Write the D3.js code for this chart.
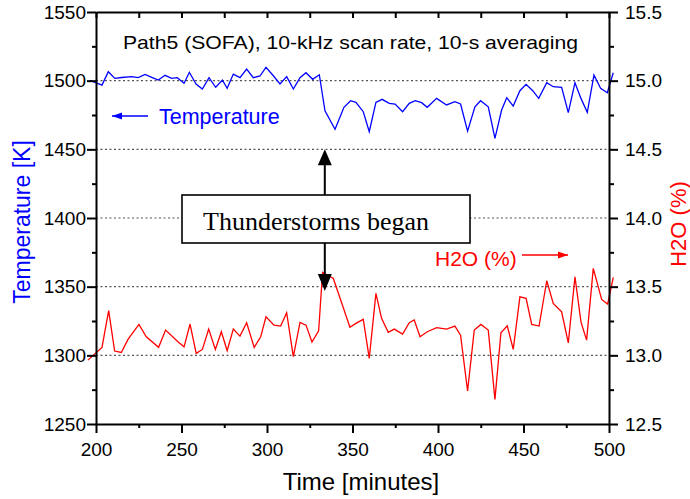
<!DOCTYPE html>
<html>
<head>
<meta charset="utf-8">
<script src="https://cdn.jsdelivr.net/npm/d3@7"></script>
<style>
  body{margin:0;background:#fff;}
  svg{display:block;font-family:"Liberation Sans",Arial,sans-serif;}
</style>
</head>
<body>
<svg id="chart" width="690" height="499"></svg>
<script>
// temperature series (left axis, K)
const tempTime = [196.5,203.5,207.2,211,215,220.9,224.7,228.7,232.6,236.4,240.4,244.2,247.5,251.5,254.6,258.5,262.2,266.1,270,273.9,276.7,280.3,284.2,288.1,292,295.9,299.4,303.7,307.6,311.5,315.4,319.3,322.8,326.7,330.6,333.9,339.8,345,348.9,352,356.3,359.8,363.7,367.3,371.5,374.9,379.3,383.2,386.7,390.4,393.7,399.2,405,409.9,413.2,417.3,421.6,424.9,429.4,433.3,437.2,440.2,444,447.9,451.5,455.4,458.9,463.6,467.4,472.3,476.2,480.1,483.6,487.3,491.2,495.1,499,502.5];
const tempVal = [1500.2,1496.8,1506.5,1501.7,1502.3,1502.9,1502.2,1504.6,1502.4,1500.5,1503.9,1501.7,1502.2,1498.1,1506.1,1497.6,1493.9,1502.2,1495.2,1500.5,1494.4,1504.8,1502.2,1508.5,1502.2,1503.4,1509.7,1503.6,1497.6,1502.9,1493.9,1502.2,1505.8,1501,1504.3,1478.1,1464.6,1480.6,1485.4,1484.2,1477.4,1462.8,1484.2,1486.4,1483.5,1483,1477.4,1483.5,1485.4,1484,1480.6,1487.1,1482.3,1484.7,1483,1463.3,1481,1485.4,1481,1458,1478.6,1487.6,1481.5,1492.7,1497.3,1492.7,1487.1,1498.5,1495.6,1495.2,1476.7,1498.5,1487.1,1476.9,1504.1,1494.4,1491.2,1505.8];

// H2O series (right axis, %)
const h2oTime = [195.3,203.5,207.4,210.9,214.8,218.7,225.1,229.4,236.6,240.7,247.9,251.5,255,258.6,262.2,265.9,269.8,273.3,276.7,280.3,284.2,288.1,292.5,296.3,299.4,304.1,308,311.5,315.4,319.3,322.8,326.3,330.2,332.5,338.8,348.5,352,356.3,359.8,363.7,367,370.9,374.4,379.3,383.2,386.1,389.5,393.7,399.2,405,409.9,413.2,417.3,421.2,425.1,429.4,433.3,436.8,440.5,444,447.9,451.5,454.8,459.1,463.6,467.4,472.3,476.2,480.1,483.6,486.9,490.8,495.7,499.2,502.5];
const h2oVal = [12.965,13.058,13.325,13.031,13.021,13.116,13.225,13.135,13.058,13.184,13.099,13.062,13.228,13.014,13.043,13.191,13.043,13.172,13.033,13.191,13.14,13.237,13.058,13.135,13.281,13.22,13.213,13.31,12.99,13.24,13.22,13.097,13.179,13.605,13.56,13.204,13.233,13.262,12.978,13.451,13.269,13.167,13.191,13.155,13.237,13.257,13.135,13.172,13.201,13.191,13.213,13.147,12.74,13.184,13.225,13.184,12.679,13.164,13.215,13.043,13.426,13.415,13.225,13.213,13.543,13.378,13.317,13.091,13.572,13.244,13.111,13.633,13.407,13.373,13.568];

const xTicks = [200,250,300,350,400,450,500];
const xMinor = [225,275,325,375,425,475];
const tTicks = [1250,1300,1350,1400,1450,1500,1550];
const tMinor = [1275,1325,1375,1425,1475,1525];
const hTicks = [12.5,13.0,13.5,14.0,14.5,15.0,15.5];
const hMinor = [12.75,13.25,13.75,14.25,14.75,15.25];
const gridVals = [1300,1350,1400,1450,1500];

const svg = d3.select("#chart");
const L=96, R=609, T=12, B=424;

const x = d3.scaleLinear().domain([200,500]).range([L,R]);
const yT = d3.scaleLinear().domain([1250,1550]).range([B,T]);
const yH = d3.scaleLinear().domain([12.5,15.5]).range([B,T]);

// dotted grid
svg.append("g").selectAll("line").data(gridVals).join("line")
  .attr("x1",L).attr("x2",R).attr("y1",d=>yT(d)).attr("y2",d=>yT(d))
  .attr("stroke","#555").attr("stroke-width",1.2).attr("stroke-dasharray","2,2.5");

// series
const tData = tempTime.map((t,i)=>[t,tempVal[i]]);
const hData = h2oTime.map((t,i)=>[t,h2oVal[i]]);
svg.append("path").datum(tData)
  .attr("d",d3.line().x(d=>x(d[0])).y(d=>yT(d[1])))
  .attr("fill","none").attr("stroke","#0000ff").attr("stroke-width",1.3);
svg.append("path").datum(hData)
  .attr("d",d3.line().x(d=>x(d[0])).y(d=>yH(d[1])))
  .attr("fill","none").attr("stroke","#ff0000").attr("stroke-width",1.3);

// axes
function styleAxis(g){
  g.selectAll(".domain").attr("stroke-width",2);
  g.selectAll(".tick line").attr("stroke-width",2);
  g.selectAll("text").attr("font-size","19px").attr("fill","#000")
    .attr("font-family","'Liberation Sans',Arial,sans-serif");
}
const gl = svg.append("g").attr("transform",`translate(${L},0)`)
  .call(d3.axisLeft(yT).tickValues(tTicks).tickSize(9).tickSizeOuter(0).tickPadding(1).tickFormat(d3.format("d")));
styleAxis(gl);
svg.append("g").attr("transform",`translate(${L},0)`)
  .call(d3.axisLeft(yT).tickValues(tMinor).tickSize(4).tickSizeOuter(0).tickFormat(""))
  .call(g=>{g.select(".domain").remove();g.selectAll("line").attr("stroke-width",2);});

const gr = svg.append("g").attr("transform",`translate(${R},0)`)
  .call(d3.axisRight(yH).tickValues(hTicks).tickSize(9).tickSizeOuter(0).tickPadding(7).tickFormat(d3.format(".1f")));
styleAxis(gr);
svg.append("g").attr("transform",`translate(${R},0)`)
  .call(d3.axisRight(yH).tickValues(hMinor).tickSize(5).tickSizeOuter(0).tickFormat(""))
  .call(g=>{g.select(".domain").remove();g.selectAll("line").attr("stroke-width",2);});

const gb = svg.append("g").attr("transform",`translate(0,${B})`)
  .call(d3.axisBottom(x).tickValues(xTicks).tickSize(9).tickSizeOuter(0).tickPadding(10).tickFormat(d3.format("d")));
styleAxis(gb);
svg.append("g").attr("transform",`translate(0,${B})`)
  .call(d3.axisBottom(x).tickValues(xMinor).tickSize(4).tickSizeOuter(0).tickFormat(""))
  .call(g=>{g.select(".domain").remove();g.selectAll("line").attr("stroke-width",2);});

const gt = svg.append("g").attr("transform",`translate(0,${T})`)
  .call(d3.axisTop(x).tickValues(xTicks.concat(xMinor)).tickSizeInner(-6).tickSizeOuter(0).tickFormat(""));
styleAxis(gt);

// axis titles
svg.append("text").attr("x",361).attr("y",490).attr("text-anchor","middle")
  .attr("font-size","24px").text("Time [minutes]");
svg.append("text").attr("transform","translate(30,222) rotate(-90)").attr("text-anchor","middle")
  .attr("font-size","23px").attr("fill","#0000ff").text("Temperature [K]");
svg.append("text").attr("transform","translate(686,224) rotate(-90)").attr("text-anchor","middle")
  .attr("font-size","22px").attr("fill","#ff0000").text("H2O (%)");

// title
svg.append("text").attr("x",123).attr("y",49).attr("font-size","19px")
  .attr("textLength",455).attr("lengthAdjust","spacingAndGlyphs")
  .text("Path5 (SOFA), 10-kHz scan rate, 10-s averaging");

// small arrowheads for series labels
const defs = svg.append("defs");
function head(id,color){
  defs.append("marker").attr("id",id).attr("viewBox","0 0 10 10").attr("refX",10).attr("refY",5)
    .attr("markerWidth",10).attr("markerHeight",10).attr("markerUnits","userSpaceOnUse").attr("orient","auto")
    .append("path").attr("d","M0,1.5L10,5L0,8.5Z").attr("fill",color);
}
head("hb","#0000ff"); head("hr","#ff0000");

// series labels
svg.append("line").attr("x1",148).attr("x2",112).attr("y1",116).attr("y2",116)
  .attr("stroke","#0000ff").attr("stroke-width",1.3).attr("marker-end","url(#hb)");
svg.append("text").attr("x",159).attr("y",124).attr("font-size","21.5px").attr("fill","#0000ff").text("Temperature");
svg.append("line").attr("x1",522).attr("x2",568).attr("y1",255).attr("y2",255)
  .attr("stroke","#ff0000").attr("stroke-width",1.3).attr("marker-end","url(#hr)");
svg.append("text").attr("x",435).attr("y",266).attr("font-size","21px").attr("fill","#ff0000").text("H2O (%)");

// thunderstorm annotation
const ax = x(333.8);
const upTip = yT(1450), downTip = 291;
svg.append("line").attr("x1",ax).attr("x2",ax).attr("y1",195).attr("y2",upTip+12)
  .attr("stroke","#000").attr("stroke-width",2);
svg.append("path").attr("d",`M${ax},${upTip}L${ax-7},${upTip+16}L${ax+7},${upTip+16}Z`).attr("fill","#000");
svg.append("line").attr("x1",ax).attr("x2",ax).attr("y1",243).attr("y2",downTip-12)
  .attr("stroke","#000").attr("stroke-width",2);
svg.append("path").attr("d",`M${ax},${downTip}L${ax-7},${downTip-17}L${ax+7},${downTip-17}Z`).attr("fill","#000");
svg.append("rect").attr("x",182).attr("y",195).attr("width",288).attr("height",48)
  .attr("fill","#fff").attr("stroke","#000").attr("stroke-width",1.6);
svg.append("text").attr("x",203).attr("y",230).attr("font-size","26px")
  .attr("font-family","'Liberation Serif','Times New Roman',serif").text("Thunderstorms began");
</script>
</body>
</html>
